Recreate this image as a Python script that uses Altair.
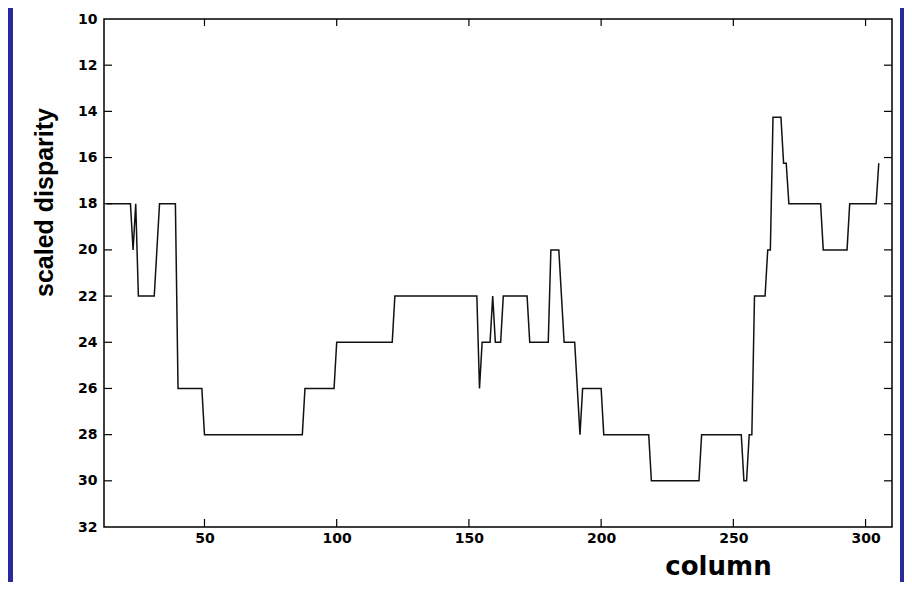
import altair as alt
import pandas as pd

# ---- data ----
columns = [13, 22, 23, 24, 25, 31, 33, 39, 40, 49, 50, 87, 88, 99, 100, 121, 122,
           153, 154, 155, 158, 159, 160, 162, 163, 172, 173, 180, 181, 184, 186,
           190, 192, 193, 200, 201, 218, 219, 237, 238, 253, 254, 255, 256, 257,
           258, 262, 263, 264, 265, 268, 269, 270, 271, 283, 284, 293, 294, 304, 305]
disparity = [18, 18, 20, 18, 22, 22, 18, 18, 26, 26, 28, 28, 26, 26, 24, 24, 22,
             22, 26, 24, 24, 22, 24, 24, 22, 22, 24, 24, 20, 20, 24,
             24, 28, 26, 26, 28, 28, 30, 30, 28, 28, 30, 30, 28, 28,
             22, 22, 20, 20, 14.25, 14.25, 16.25, 16.25, 18, 18, 20, 20, 18, 18, 16.25]

x_tick_values = [50, 100, 150, 200, 250, 300]
y_tick_values = [10, 12, 14, 16, 18, 20, 22, 24, 26, 28, 30, 32]
y_inner_ticks = [12, 14, 16, 18, 20, 22, 24, 26, 28, 30]
x_domain = [12, 310]
y_domain = [10, 32]

W, H = 788, 508
BLUE = "#2a2a9a"

df = pd.DataFrame({"column": columns, "disparity": disparity})
xt = pd.DataFrame({"column": x_tick_values})
yt = pd.DataFrame({"disparity": y_inner_ticks})
one = pd.DataFrame({"a": [0]})

xscale = alt.Scale(domain=x_domain, nice=False, zero=False)
yscale = alt.Scale(domain=y_domain, nice=False, zero=False, reverse=True)

LABEL_FONT = "DejaVu Sans"

x_axis = alt.Axis(values=x_tick_values, ticks=False, domain=False, grid=False,
                  labelFont=LABEL_FONT, labelFontWeight="bold", labelFontSize=14,
                  labelColor="black", labelPadding=4,
                  title="column", titleFont=LABEL_FONT, titleFontWeight="bold",
                  titleFontSize=26, titleColor="black",
                  titleX=614, titleY=47, titleAlign="center",
                  titleBaseline="alphabetic")
y_axis = alt.Axis(values=y_tick_values, ticks=False, domain=False, grid=False,
                  labelFont=LABEL_FONT, labelFontWeight="bold", labelFontSize=14,
                  labelColor="black", labelPadding=7,
                  title="scaled disparity",
                  titleFont="Liberation Sans, Arial",
                  titleFontWeight="bold", titleFontSize=25, titleColor="black",
                  titleX=-52, titleY=183, titleAngle=270, titleAlign="center",
                  titleBaseline="alphabetic")

X = alt.X("column:Q", scale=xscale, axis=x_axis)
Y = alt.Y("disparity:Q", scale=yscale, axis=y_axis)

left_strip = alt.Chart(one).mark_rect(color=BLUE, clip=False).encode(
    x=alt.value(-96), x2=alt.value(-91), y=alt.value(-11), y2=alt.value(563)
)
right_strip = alt.Chart(one).mark_rect(color=BLUE, clip=False).encode(
    x=alt.value(796), x2=alt.value(800), y=alt.value(-11), y2=alt.value(563)
)

line = alt.Chart(df).mark_line(color="#111111", strokeWidth=1.5).encode(x=X, y=Y)

frame = alt.Chart(one).mark_rect(fillOpacity=0, stroke="black", strokeWidth=1.5).encode(
    x=alt.value(0), x2=alt.value(W), y=alt.value(0), y2=alt.value(H)
)

yt_left = alt.Chart(yt).mark_rule(color="black", strokeWidth=1.2).encode(
    y=Y, x=alt.value(0), x2=alt.value(8)
)
yt_right = alt.Chart(yt).mark_rule(color="black", strokeWidth=1.2).encode(
    y=Y, x=alt.value(W - 8), x2=alt.value(W)
)
xt_bottom = alt.Chart(xt).mark_rule(color="black", strokeWidth=1.2).encode(
    x=X, y=alt.value(H - 8), y2=alt.value(H)
)
xt_top = alt.Chart(xt).mark_rule(color="black", strokeWidth=1.2).encode(
    x=X, y=alt.value(0), y2=alt.value(7)
)

chart = alt.layer(line, left_strip, right_strip, yt_left, yt_right, xt_bottom, xt_top, frame).properties(
    width=W, height=H,
    autosize=alt.AutoSizeParams(type="none"),
    padding={"left": 96, "top": 11, "right": 12, "bottom": 55},
    background="white",
).configure_view(stroke=None)

chart.save("out.html", embed_options={"renderer": "svg", "actions": False})
